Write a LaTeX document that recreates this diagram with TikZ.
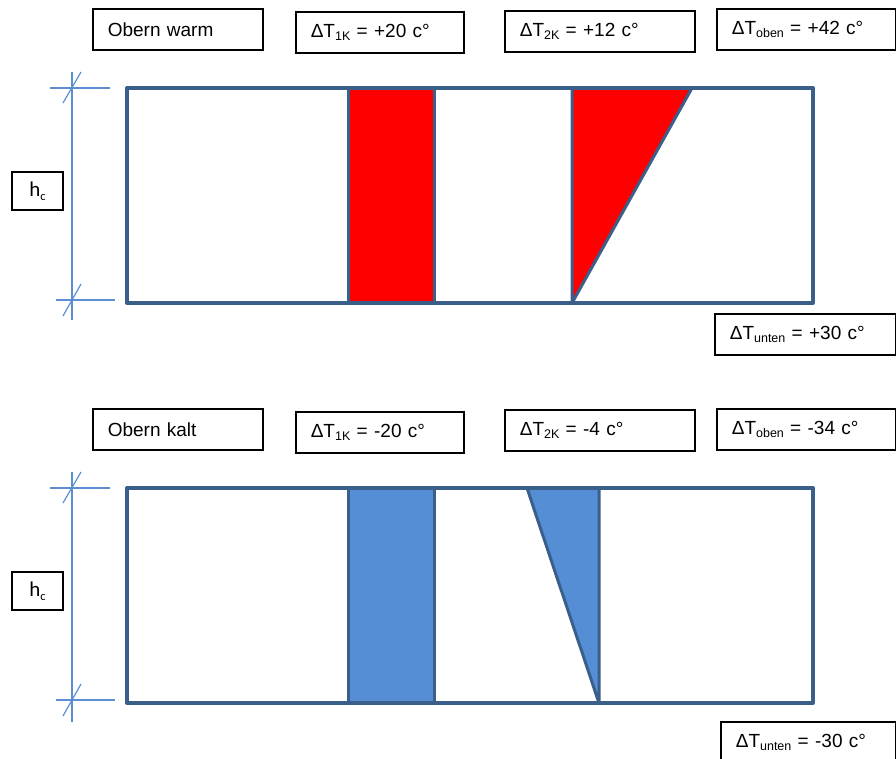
\documentclass[tikz,border=0pt]{standalone}
\usepackage{fontspec}
\setmainfont{Liberation Sans}
\newfontfamily\hcfont{Carlito}
\usepackage{xcolor}
\definecolor{framecol}{HTML}{3A5F8B}
\definecolor{dimcol}{HTML}{5B8FD2}
\definecolor{warmcol}{HTML}{FF0000}
\definecolor{coldcol}{HTML}{558ED5}
\newcommand{\lowidx}[1]{\raisebox{-0.35ex}{\fontsize{12.5}{13}\selectfont #1}}

\begin{document}
\begin{tikzpicture}[x=1pt,y=-1pt,every node/.style={font=\fontsize{19}{22}\selectfont},
  tbox/.style={draw=black,line width=1.6pt,anchor=north west,inner xsep=15pt,minimum height=41pt,text width=#1,align=left},
  hcbox/.style={draw=black,line width=1.6pt,minimum width=51pt,minimum height=38pt,font=\hcfont\fontsize{21}{24}\selectfont},
  frame/.style={draw=framecol,line width=4pt,line join=round},
  part/.style={draw=framecol,line width=3pt,line join=bevel},
  dim/.style={draw=dimcol,line width=1.2pt}]
\useasboundingbox (0,0) rectangle (896,758);
% oben warm
\node[tbox=140] (obenwarm) at (92,8) {Obern warm};
\node[tbox=138] (dtonekwarm) at (295,11) {ΔT\lowidx{1K} = +20 c°};
\node[tbox=160] (dttwokwarm) at (504,10) {ΔT\lowidx{2K} = +12 c°};
\node[tbox=149] (dtobenwarm) at (716,8) {ΔT\lowidx{oben} = +42 c°};
\node[tbox=151] (dtuntenwarm) at (714,313) {ΔT\lowidx{unten} = +30 c°};
\draw[part,fill=warmcol] (348,88) rectangle (434,303);
\draw[part,fill=warmcol] (572,88) -- (692,88) -- (572,303) -- cycle;
\draw[frame] (127,88) rectangle (813,303);
\draw[dim] (72,72) -- (72,320);
\draw[dim] (50,88) -- (110,88);
\draw[dim] (56,300) -- (115,300);
\draw[dim] (63,103) -- (81,72);
\draw[dim] (63,316) -- (81,284);
\node[hcbox] (hcwarm) at (37.5,191) {h\lowidx{c}};
% oben kalt
\node[tbox=140] (obenkalt) at (92,408) {Obern kalt};
\node[tbox=138] (dtonekkalt) at (295,411) {ΔT\lowidx{1K} = -20 c°};
\node[tbox=160] (dttwokkalt) at (504,409) {ΔT\lowidx{2K} = -4 c°};
\node[tbox=149] (dtobenkalt) at (716,408) {ΔT\lowidx{oben} = -34 c°};
\node[tbox=145] (dtuntenkalt) at (720,721) {ΔT\lowidx{unten} = -30 c°};
\draw[part,fill=coldcol] (348,488) rectangle (434,703);
\draw[part,fill=coldcol] (527,488) -- (599,488) -- (599,703) -- cycle;
\draw[frame] (127,488) rectangle (813,703);
\draw[dim] (72,472) -- (72,722);
\draw[dim] (50,488) -- (110,488);
\draw[dim] (56,700) -- (115,700);
\draw[dim] (63,503) -- (81,472);
\draw[dim] (63,716) -- (81,684);
\node[hcbox] (hckalt) at (37.5,591) {h\lowidx{c}};
\end{tikzpicture}
\end{document}
